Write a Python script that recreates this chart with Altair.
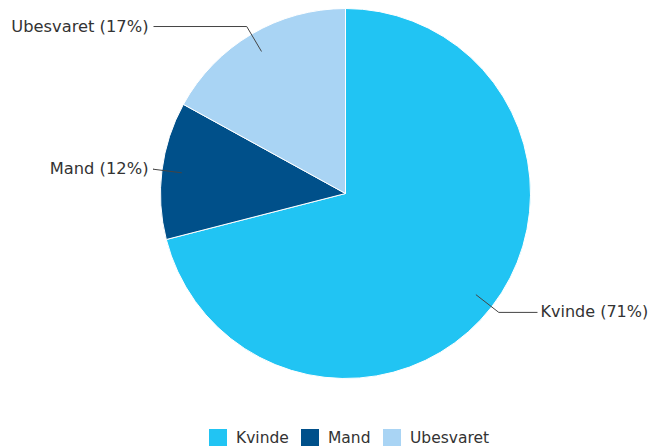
import math
import altair as alt
import pandas as pd

categories = ["Kvinde", "Mand", "Ubesvaret"]
percents = [71, 12, 17]
colors = ["#21C4F3", "#00508A", "#A9D4F4"]

W, H = 640, 438
CX, CY, R = 337.5, 185.5, 185
R_IN, R_ELBOW, X_END = 165, 194, 192
X_TXT = {1: 195, -1: 197}

df = pd.DataFrame({"cat": categories, "pct": percents, "idx": range(len(categories))})

# leader lines and label positions derived from the data
total = sum(percents)
segs, labs = [], []
cum = 0
for c, p in zip(categories, percents):
    mid = (cum + p / 2) / total * 2 * math.pi
    cum += p
    s = math.sin(mid)
    side = 1 if s >= 0 else -1
    x0, y0 = CX + R_IN * s, CY - R_IN * math.cos(mid)
    x1, y1 = CX + R_ELBOW * s, CY - R_ELBOW * math.cos(mid)
    x2 = CX + side * X_END
    segs.append({"x": x0, "y": y0, "x2": x1, "y2": y1})
    segs.append({"x": x1, "y": y1, "x2": x2, "y2": y1})
    labs.append({"x": CX + side * X_TXT[side], "y": y1, "text": f"{c} ({p}%)",
                 "align": "left" if side > 0 else "right"})

seg_df = pd.DataFrame(segs)
lab_df = pd.DataFrame(labs)

xs = alt.Scale(domain=[0, W], range=[0, W], nice=False, zero=False)
ys = alt.Scale(domain=[0, H], range=[0, H], nice=False, zero=False)

pie = alt.Chart(df).mark_arc(outerRadius=R, stroke="white", strokeWidth=1).encode(
    theta=alt.Theta("pct:Q", stack=True),
    order=alt.Order("idx:Q"),
    color=alt.Color("cat:N", scale=alt.Scale(domain=categories, range=colors),
                    legend=alt.Legend(orient="none", legendX=201, legendY=421,
                                      direction="horizontal", title=None,
                                      symbolType="square", symbolSize=324,
                                      symbolStrokeWidth=0, symbolOpacity=1,
                                      labelFontSize=15.5, labelFont="DejaVu Sans",
                                      labelColor="#333333", columnPadding=12,
                                      labelOffset=9)),
    x=alt.value(CX),
    y=alt.value(CY),
)

lines = alt.Chart(seg_df).mark_rule(color="#444444", strokeWidth=1).encode(
    x=alt.X("x:Q", scale=xs, axis=None),
    y=alt.Y("y:Q", scale=ys, axis=None),
    x2="x2:Q",
    y2="y2:Q",
)

left_labels = alt.Chart(lab_df[lab_df["align"] == "right"]).mark_text(
    align="right", baseline="middle", fontSize=16.3, font="DejaVu Sans", color="#333333"
).encode(x=alt.X("x:Q", scale=xs, axis=None), y=alt.Y("y:Q", scale=ys, axis=None), text="text:N")

right_labels = alt.Chart(lab_df[lab_df["align"] == "left"]).mark_text(
    align="left", baseline="middle", fontSize=16, font="DejaVu Sans", color="#333333"
).encode(x=alt.X("x:Q", scale=xs, axis=None), y=alt.Y("y:Q", scale=ys, axis=None), text="text:N")

chart = alt.layer(pie, lines, left_labels, right_labels).properties(
    width=W, height=H, autosize=alt.AutoSizeParams(type="none"), padding=0
).configure_view(stroke=None).resolve_scale(x="shared", y="shared")

chart.save("out.html", embed_options={"renderer": "svg", "actions": False})
